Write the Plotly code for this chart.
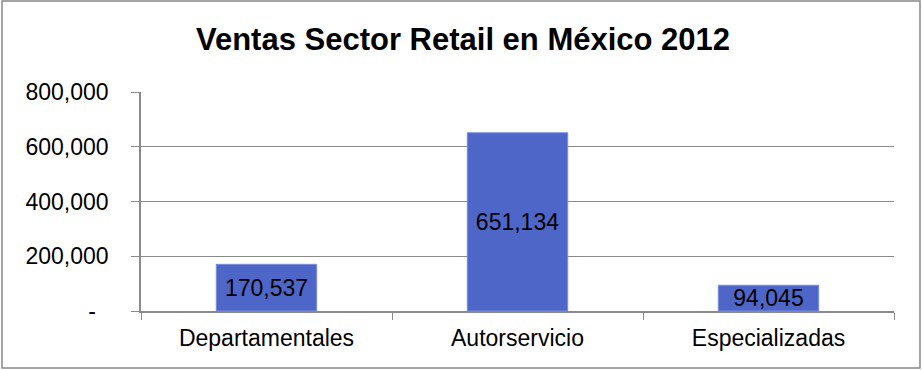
import plotly.graph_objects as go

categories = ["Departamentales", "Autorservicio", "Especializadas"]
ventas = [170537, 651134, 94045]
y_tickvals = [0, 200000, 400000, 600000, 800000]
y_ticktext = ["-\u00a0\u00a0", "200,000", "400,000", "600,000", "800,000"]
title_text = "Ventas Sector Retail en México 2012"

W, H = 923, 370
L, R, T, B = 141, 29, 92, 59

fig = go.Figure()
fig.add_trace(go.Bar(
    x=categories, y=ventas,
    text=[f"{v:,}" for v in ventas],
    textposition="inside", insidetextanchor="middle", constraintext="none",
    textfont=dict(family="Liberation Sans, Arial", size=23, color="#000000"),
    marker=dict(color="#4F66C9", line=dict(color="#7A8CDA", width=1)),
    width=0.4,
))

axis_color = "#8A8A8A"
fig.update_layout(
    width=W, height=H,
    margin=dict(l=L, r=R, t=T, b=B),
    paper_bgcolor="white", plot_bgcolor="white",
    showlegend=False,
    font=dict(family="Liberation Sans, Arial", size=23, color="#000000"),
    title=dict(text="<b>" + title_text + "</b>", xref="container", yref="container",
               x=463 / W, y=1 - 39 / H, xanchor="center", yanchor="middle",
               font=dict(family="Liberation Sans, Arial", size=31, color="#000000")),
    xaxis=dict(
        showline=True, linecolor=axis_color, linewidth=1.5,
        ticks="outside", tickson="boundaries", ticklen=7, tickcolor=axis_color,
        tickfont=dict(size=23), showgrid=False, ticklabelstandoff=6,
    ),
    yaxis=dict(
        range=[0, 800000], tickvals=y_tickvals, ticktext=y_ticktext,
        showline=True, linecolor=axis_color, linewidth=1.5,
        ticks="outside", ticklen=8, tickcolor=axis_color,
        showgrid=True, gridcolor=axis_color, gridwidth=1.2,
        tickfont=dict(size=23), ticklabelstandoff=18, zeroline=False,
    ),
    shapes=[dict(type="rect", xref="paper", yref="paper",
                 x0=(2 - L) / (W - L - R), x1=(920 - L) / (W - L - R),
                 y0=(H - 368 - B) / (H - T - B),
                 y1=(H - 1 - B) / (H - T - B),
                 line=dict(color="#888888", width=1.5))],
)

fig.write_html("out.html")
